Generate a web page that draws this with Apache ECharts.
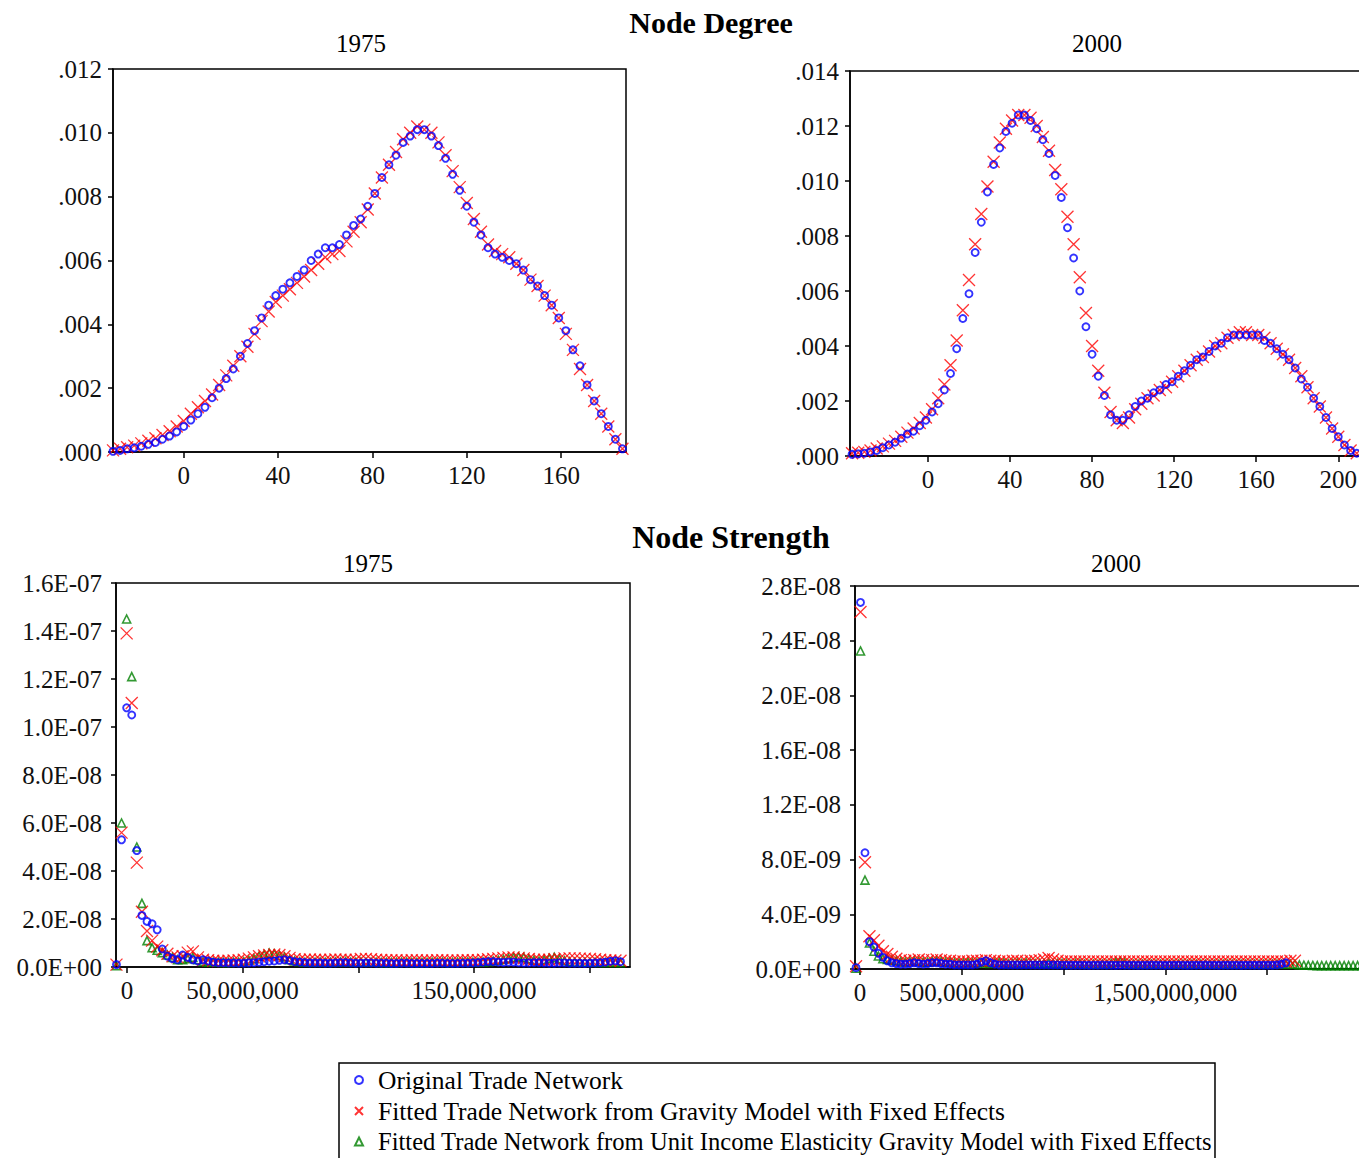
<!DOCTYPE html>
<html><head><meta charset="utf-8">
<script src="https://cdn.jsdelivr.net/npm/echarts@6/dist/echarts.min.js"></script>
<style>html,body{margin:0;padding:0;background:#fff}#c{width:1359px;height:1158px}</style>
</head><body><div id="c"></div>
<script>
// ---------------- DATA ----------------
const seriesNames = [
  'Original Trade Network',
  'Fitted Trade Network from Gravity Model with Fixed Effects',
  'Fitted Trade Network from Unit Income Elasticity Gravity Model with Fixed Effects'
];
const panelTitles = ['Node Degree', 'Node Strength'];
const yearLabels = ['1975', '2000'];

// Node degree 1975 (kernel density)
const degree1975X = [-30,-27,-24,-21,-18,-15,-12,-9,-6,-3,0,3,6,9,12,15,18,21,24,27,30,33,36,39,42,45,48,51,54,57,60,63,66,69,72,75,78,81,84,87,90,93,96,99,102,105,108,111,114,117,120,123,126,129,132,135,138,141,144,147,150,153,156,159,162,165,168,171,174,177,180,183,186];
const degree1975Original = [.00002,.00005,.0001,.00013,.00018,.00024,.0003,.0004,.0005,.00063,.0008,.001,.0012,.0014,.0017,.002,.0023,.0026,.003,.0034,.0038,.0042,.0046,.0049,.0051,.0053,.0055,.0057,.006,.0062,.0064,.0064,.0065,.0068,.0071,.0073,.0077,.0081,.0086,.009,.0093,.0097,.0099,.0101,.0101,.0099,.0096,.0092,.0087,.0082,.0077,.0072,.0068,.0064,.0062,.0061,.006,.0059,.0057,.0054,.0052,.0049,.0046,.0042,.0038,.0032,.0027,.0021,.0016,.0012,.0008,.0004,.0001];
const degree1975Gravity = [.00005,.0001,.00015,.0002,.00027,.00035,.00043,.00053,.00065,.0008,.00097,.0012,.0014,.0016,.0018,.0021,.0024,.0027,.003,.0033,.0037,.0041,.0044,.0047,.0049,.0051,.0053,.0055,.0057,.0059,.0061,.0062,.0063,.0066,.0069,.0072,.0076,.0081,.0086,.009,.0094,.0098,.01,.0102,.0101,.01,.0097,.0093,.0088,.0083,.0078,.0073,.0069,.0065,.0063,.0062,.0061,.0059,.0057,.0054,.0052,.0049,.0046,.0042,.0037,.0032,.0026,.0021,.0016,.0012,.0008,.0004,.0001];

// Node degree 2000
const degree2000X = [-37,-34,-31,-28,-25,-22,-19,-16,-13,-10,-7,-4,-1,2,5,8,11,14,17,20,23,26,29,32,35,38,41,44,47,50,53,56,59,62,65,68,71,74,77,80,83,86,89,92,95,98,101,104,107,110,113,116,119,122,125,128,131,134,137,140,143,146,149,152,155,158,161,164,167,170,173,176,179,182,185,188,191,194,197,200,203,206,209];
const degree2000Original = [.00006,.00008,.0001,.00015,.0002,.0003,.0004,.0005,.00065,.0008,.0009,.0011,.0013,.0016,.0019,.0024,.003,.0039,.005,.0059,.0074,.0085,.0096,.0106,.0112,.0118,.0121,.0124,.0124,.0122,.0119,.0115,.011,.0102,.0094,.0083,.0072,.006,.0047,.0037,.0029,.0022,.0015,.0013,.0013,.0015,.0018,.002,.0021,.0023,.0024,.0026,.0027,.0029,.0031,.0033,.0035,.0036,.0038,.004,.0041,.0043,.0044,.0044,.0044,.0044,.0044,.0042,.0041,.0039,.0037,.0035,.0032,.0028,.0025,.0021,.0018,.0014,.001,.0007,.0004,.0002,.0001];
const degree2000Gravity = [.0001,.00012,.00015,.0002,.00027,.00035,.00045,.00055,.0007,.00085,.001,.0012,.0014,.0017,.0021,.0026,.0033,.0042,.0053,.0064,.0077,.0088,.0098,.0107,.0114,.0119,.0122,.0124,.0124,.0123,.012,.0116,.0111,.0104,.0097,.0087,.0077,.0065,.0052,.004,.0031,.0023,.0016,.0013,.0012,.0014,.0017,.0019,.0021,.0022,.0024,.0025,.0027,.0029,.0031,.0033,.0035,.0036,.0038,.004,.0041,.0043,.0044,.0045,.0045,.0044,.0044,.0043,.0041,.0039,.0037,.0035,.0032,.0029,.0025,.0021,.0018,.0014,.001,.0007,.0004,.0002,.0001];

// Node strength 1975: x in millions, densities in units of 1e-8
const strength1975XMillions = [-4.5,-2.3,-0.1,2.1,4.3,6.5,8.7,10.9,13.1,15.3,17.5,19.7,21.9,24.1,26.3,28.5,30.7,32.9,35.1,37.3,39.5,41.7,43.9,46.1,48.3,50.5,52.7,54.9,57.1,59.3,61.5,63.7,65.9,68.1,70.3,72.5,74.7,76.9,79.1,81.3,83.5,85.7,87.9,90.1,92.3,94.5,96.7,98.9,101.1,103.3,105.5,107.7,109.9,112.1,114.3,116.5,118.7,120.9,123.1,125.3,127.5,129.7,131.9,134.1,136.3,138.5,140.7,142.9,145.1,147.3,149.5,151.7,153.9,156.1,158.3,160.5,162.7,164.9,167.1,169.3,171.5,173.7,175.9,178.1,180.3,182.5,184.7,186.9,189.1,191.3,193.5,195.7,197.9,200.1,202.3,204.5,206.7,208.9,211.1,213.3];
const strength1975Original = [0.1,5.3,10.8,10.5,4.85,2.15,1.9,1.8,1.55,0.75,
 0.45,0.35,0.3,0.5,0.4,0.3,0.25,0.3,0.25,0.2,
 0.18,0.18,0.17,0.17,0.16,0.16,0.17,0.18,0.2,0.22,
 0.24,0.25,0.28,0.3,0.27,0.22,0.2,0.18,0.17,0.17,
 0.17,0.16,0.16,0.17,0.18,0.18,0.17,0.16,0.16,0.17,
 0.17,0.16,0.16,0.16,0.15,0.15,0.16,0.16,0.15,0.15,
 0.15,0.15,0.15,0.16,0.16,0.15,0.15,0.15,0.16,0.16,
 0.17,0.18,0.2,0.22,0.22,0.2,0.19,0.2,0.2,0.18,
 0.17,0.17,0.18,0.18,0.17,0.16,0.16,0.17,0.17,0.16,
 0.16,0.16,0.15,0.16,0.17,0.18,0.2,0.24,0.26,0.22];
const strength1975Gravity = [0.1,5.6,13.9,11.0,4.35,2.3,1.5,1.1,0.85,0.7,
 0.55,0.45,0.4,0.45,0.6,0.65,0.4,0.3,0.28,0.26,
 0.25,0.25,0.26,0.27,0.28,0.3,0.35,0.4,0.45,0.48,
 0.5,0.52,0.5,0.45,0.38,0.32,0.3,0.3,0.31,0.3,
 0.3,0.29,0.3,0.31,0.3,0.3,0.29,0.3,0.33,0.34,
 0.32,0.3,0.29,0.28,0.28,0.28,0.27,0.27,0.28,0.28,
 0.27,0.27,0.27,0.28,0.28,0.27,0.27,0.27,0.28,0.28,
 0.28,0.28,0.3,0.32,0.34,0.36,0.38,0.4,0.4,0.38,
 0.36,0.33,0.3,0.3,0.3,0.3,0.32,0.34,0.36,0.36,
 0.36,0.35,0.35,0.34,0.32,0.3,0.28,0.27,0.27,0.26];
const strength1975UnitElasticity = [0.05,6.0,14.5,12.1,5.0,2.65,1.1,0.8,0.7,0.6,
 0.5,0.4,0.3,0.3,0.35,0.4,0.3,0.22,0.2,0.2,
 0.2,0.19,0.19,0.2,0.2,0.22,0.28,0.35,0.45,0.52,
 0.58,0.55,0.48,0.42,0.3,0.25,0.22,0.2,0.2,0.2,
 0.21,0.2,0.2,0.21,0.21,0.22,0.2,0.2,0.21,0.2,
 0.2,0.2,0.19,0.19,0.19,0.19,0.2,0.2,0.19,0.19,
 0.19,0.19,0.2,0.2,0.2,0.19,0.19,0.2,0.2,0.21,
 0.2,0.2,0.21,0.22,0.25,0.28,0.32,0.36,0.4,0.42,
 0.4,0.34,0.28,0.25,0.3,0.36,0.4,0.34,0.26,0.22,
 0.2,0.2,0.2,0.2,0.2,0.19,0.19,0.19,0.19,0.18];

// Node strength 2000: x in millions, densities in units of 1e-9
const strength2000XMillions = [-20,2,24,46,68,90,112,134,156,178,200,222,244,266,288,310,332,354,376,398,420,442,464,486,508,530,552,574,596,618,640,662,684,706,728,750,772,794,816,838,860,882,904,926,948,970,992,1014,1036,1058,1080,1102,1124,1146,1168,1190,1212,1234,1256,1278,1300,1322,1344,1366,1388,1410,1432,1454,1476,1498,1520,1542,1564,1586,1608,1630,1652,1674,1696,1718,1740,1762,1784,1806,1828,1850,1872,1894,1916,1938,1960,1982,2004,2026,2048,2070,2092,2114,2136,2158,2180,2202,2224,2246,2268,2290,2312,2334,2356,2378,2400,2422,2444,2466,2488];
const strength2000Original = [0.1,26.8,8.5,2.0,1.6,1.15,0.85,0.6,0.45,0.4,0.35,
 0.35,0.4,0.45,0.4,0.35,0.4,0.45,0.45,0.4,0.35,
 0.35,0.3,0.3,0.3,0.3,0.3,0.35,0.5,0.6,0.45,
 0.35,0.3,0.3,0.3,0.3,0.3,0.3,0.3,0.3,0.3,
 0.3,0.3,0.3,0.3,0.3,0.28,0.28,0.28,0.28,0.28,
 0.28,0.27,0.28,0.28,0.29,0.28,0.28,0.27,0.28,0.28,
 0.28,0.28,0.27,0.28,0.28,0.29,0.28,0.28,0.27,0.28,
 0.28,0.28,0.28,0.27,0.28,0.28,0.28,0.29,0.28,0.28,
 0.27,0.28,0.28,0.28,0.28,0.27,0.28,0.28,0.28,0.28,
 0.28,0.28,0.28,0.3,0.35,0.45,
 null,null,null,null,null,null,null,null,null,null,null,null,null,null,null,null,null,null];
const strength2000Gravity = [0.2,26.1,7.8,2.4,2.1,1.7,1.3,1.1,0.9,0.75,0.65,
 0.6,0.6,0.65,0.7,0.65,0.6,0.65,0.7,0.65,0.6,
 0.6,0.55,0.55,0.55,0.55,0.6,0.6,0.6,0.65,0.6,
 0.6,0.55,0.55,0.55,0.6,0.6,0.55,0.55,0.6,0.6,
 0.65,0.7,0.8,0.7,0.6,0.55,0.55,0.55,0.55,0.55,
 0.55,0.55,0.56,0.55,0.55,0.55,0.56,0.55,0.55,0.55,
 0.55,0.56,0.55,0.55,0.55,0.55,0.56,0.55,0.55,0.55,
 0.55,0.55,0.56,0.55,0.55,0.55,0.55,0.56,0.55,0.55,
 0.55,0.55,0.55,0.56,0.55,0.55,0.55,0.55,0.56,0.55,
 0.55,0.55,0.55,0.55,0.55,0.55,0.6,0.6,
 null,null,null,null,null,null,null,null,null,null,null,null,null,null,null,null];
const strength2000UnitElasticity = [0.05,23.25,6.5,1.9,1.3,0.95,0.75,0.7,0.65,0.6,0.55,
 0.5,0.55,0.6,0.55,0.5,0.5,0.55,0.6,0.55,0.5,
 0.5,0.45,0.45,0.45,0.5,0.45,0.45,0.45,0.45,0.4,
 0.45,0.5,0.45,0.4,0.4,0.45,0.4,0.45,0.4,0.4,
 0.4,0.4,0.45,0.4,0.4,0.4,0.4,0.35,0.4,0.4,
 0.35,0.35,0.35,0.35,0.35,0.35,0.4,0.5,0.55,0.45,
 0.35,0.35,0.36,0.35,0.35,0.35,0.36,0.35,0.35,0.35,
 0.35,0.36,0.35,0.35,0.35,0.35,0.36,0.35,0.35,0.35,
 0.35,0.35,0.36,0.35,0.35,0.35,0.35,0.36,0.35,0.35,
 0.35,0.35,0.35,0.36,0.35,0.35,0.35,0.35,
 0.3,0.28,0.27,0.26,0.25,0.25,0.25,0.25,0.25,0.25,0.25,0.25,0.25,0.25,0.25,0.25];

// Axis ticks / labels
const degree1975Ticks = [0,40,80,120,160];
const degree2000Ticks = [0,40,80,120,160,200];
const strength1975Ticks = [0,50000000,100000000,150000000,200000000];
const strength1975Labels = [0,50000000,150000000];
const strength2000Ticks = [0,500000000,1000000000,1500000000,2000000000];
const strength2000Labels = [0,500000000,1500000000];

// ---------------- CHART ----------------
const FONT = '"Liberation Serif", "Times New Roman", serif';
const chart = echarts.init(document.getElementById('c'), null, {renderer: 'svg'});

function pairs(xs, ys, xk, yk) {
  const out = [];
  for (let i = 0; i < xs.length; i++) {
    if (ys[i] == null) continue;
    out.push([xs[i] * xk, ys[i] * yk]);
  }
  return out;
}
const looks = {
  blue:  {symbol: 'circle', symbolSize: 7, itemStyle: {color: 'transparent', borderColor: '#0000ff', borderWidth: 1.9}},
  red:   {symbol: 'path://M0,0L10,10M10,0L0,10', symbolSize: 12, itemStyle: {color: 'transparent', borderColor: '#ff0000', borderWidth: 1.3}},
  green: {symbol: 'triangle', symbolSize: 8, itemStyle: {color: 'transparent', borderColor: '#008000', borderWidth: 1.6}}
};
function scat(name, look, gi, data) {
  const l = looks[look];
  return {type: 'scatter', name, xAxisIndex: gi, yAxisIndex: gi, data,
    symbol: l.symbol, symbolSize: l.symbolSize, itemStyle: l.itemStyle,
    emphasis: {disabled: true}, silent: true, animation: false};
}
const frame = {show: true, borderColor: '#000', borderWidth: 1.5, backgroundColor: 'transparent', containLabel: false, outerBoundsMode: 'none'};
const labelFont = {fontFamily: FONT, fontSize: 25, color: '#111'};
function xAx(gi, min, max, ticks, labels, fmt) {
  return {type: 'value', gridIndex: gi, min, max,
    axisLine: {show: true, onZero: false, lineStyle: {color: '#000', width: 1.5}},
    axisTick: {show: true, inside: false, length: 6, customValues: ticks, lineStyle: {color: '#000', width: 1.5}},
    axisLabel: Object.assign({show: true, customValues: labels, formatter: fmt, margin: 11}, labelFont),
    splitLine: {show: false}};
}
function yAx(gi, max, interval, fmt, margin) {
  return {type: 'value', gridIndex: gi, min: 0, max, interval,
    axisLine: {show: true, onZero: false, lineStyle: {color: '#000', width: 1.5}},
    axisTick: {show: true, inside: false, length: 5, lineStyle: {color: '#000', width: 1.5}},
    axisLabel: Object.assign({show: true, formatter: fmt, margin}, labelFont),
    splitLine: {show: false}};
}
const fmtDec = v => v.toFixed(3).replace(/^0/, '');
const fmtSci = v => {
  if (v === 0) return '0.0E+00';
  const [m, e] = v.toExponential(1).split('e');
  const n = Math.abs(parseInt(e, 10));
  return m + 'E' + (e[0] === '-' ? '-' : '+') + (n < 10 ? '0' + n : n);
};
const fmtInt = v => v === 0 ? '0' : Math.round(v).toLocaleString('en-US');
const fmtPlain = v => String(v);

function txt(x, y, text, bold, size) {
  return {type: 'text', x, y, silent: true,
    style: {text, fill: '#000', font: (bold ? 'bold ' : '') + size + 'px ' + FONT,
      align: 'center', verticalAlign: 'middle', textAlign: 'center', textVerticalAlign: 'middle'}};
}

const option = {
  backgroundColor: '#fff',
  animation: false,
  grid: [
    Object.assign({left: 113, top: 69, width: 513, height: 383}, frame),
    Object.assign({left: 850, top: 71, width: 517, height: 385}, frame),
    Object.assign({left: 116, top: 583, width: 514, height: 384}, frame),
    Object.assign({left: 855, top: 586, width: 515, height: 383}, frame)
  ],
  xAxis: [
    xAx(0, -30, 187.5, degree1975Ticks, degree1975Ticks, fmtPlain),
    xAx(1, -38, 214, degree2000Ticks, degree2000Ticks, fmtPlain),
    xAx(2, -4700000, 217400000, strength1975Ticks, strength1975Labels, fmtInt),
    xAx(3, -25000000, 2505000000, strength2000Ticks, strength2000Labels, fmtInt)
  ],
  yAxis: [
    yAx(0, 0.012, 0.002, fmtDec, 11),
    yAx(1, 0.014, 0.002, fmtDec, 11),
    yAx(2, 1.6e-7, 2e-8, fmtSci, 14),
    yAx(3, 2.8e-8, 4e-9, fmtSci, 14)
  ],
  legend: {
    data: seriesNames.slice(),
    orient: 'vertical', left: 339, top: 1063, height: 130,
    padding: [4, 3, 14, 15], itemGap: 5, itemWidth: 8, itemHeight: 8,
    borderColor: '#000', borderWidth: 1.5, backgroundColor: '#fff',
    selectedMode: false,
    formatter: name => name === seriesNames[2] ? '{s|' + name + '}' : name,
    textStyle: {fontFamily: FONT, fontSize: 25.5, color: '#000', lineHeight: 25, padding: [0, 0, 0, 10],
      rich: {s: {fontFamily: FONT, fontSize: 24.6, color: '#000', lineHeight: 25}}}
  },
  graphic: [
    txt(711, 22, panelTitles[0], true, 30),
    txt(361, 43, yearLabels[0], false, 25),
    txt(1097, 43, yearLabels[1], false, 25),
    txt(731, 537, panelTitles[1], true, 32),
    txt(368, 563, yearLabels[0], false, 25),
    txt(1116, 563, yearLabels[1], false, 25)
  ],
  series: [
    scat(seriesNames[1], 'red', 0, pairs(degree1975X, degree1975Gravity, 1, 1)),
    scat(seriesNames[0], 'blue', 0, pairs(degree1975X, degree1975Original, 1, 1)),
    scat(seriesNames[1], 'red', 1, pairs(degree2000X, degree2000Gravity, 1, 1)),
    scat(seriesNames[0], 'blue', 1, pairs(degree2000X, degree2000Original, 1, 1)),
    scat(seriesNames[2], 'green', 2, pairs(strength1975XMillions, strength1975UnitElasticity, 1e6, 1e-8)),
    scat(seriesNames[1], 'red', 2, pairs(strength1975XMillions, strength1975Gravity, 1e6, 1e-8)),
    scat(seriesNames[0], 'blue', 2, pairs(strength1975XMillions, strength1975Original, 1e6, 1e-8)),
    scat(seriesNames[2], 'green', 3, pairs(strength2000XMillions, strength2000UnitElasticity, 1e6, 1e-9)),
    scat(seriesNames[1], 'red', 3, pairs(strength2000XMillions, strength2000Gravity, 1e6, 1e-9)),
    scat(seriesNames[0], 'blue', 3, pairs(strength2000XMillions, strength2000Original, 1e6, 1e-9))
  ]
};
chart.setOption(option);
</script></body></html>
